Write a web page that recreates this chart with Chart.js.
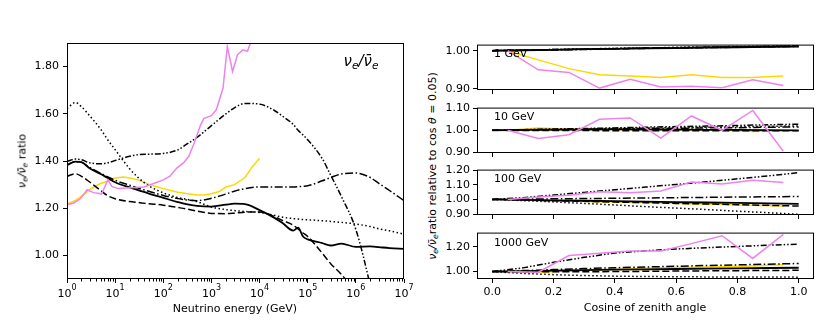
<!DOCTYPE html>
<html>
<head>
<meta charset="utf-8">
<script src="https://cdn.jsdelivr.net/npm/chart.js@4.4.1/dist/chart.umd.min.js"></script>
<style>
  body { margin: 0; background: #fff; width: 830px; height: 332px; position: relative; overflow: hidden;
         font-family: "DejaVu Sans", sans-serif; color: #000; }
  canvas { position: absolute; }
  .txt { position: absolute; white-space: nowrap; line-height: 1; }
  .rot { transform: translate(-50%, -50%) rotate(-90deg); }
  .mid { transform: translate(-50%, -50%); }
  .lab { transform: translate(0, -50%); }
  sub { font-size: 70%; vertical-align: -0.3em; line-height: 0; }
  i { font-style: italic; }
</style>
</head>
<body>
<canvas id="left" width="420" height="332" style="left:0;top:0"></canvas>

<div class="txt rot" style="left:22px;top:161px;font-size:11px"><i>ν<sub>e</sub>/ν̄<sub>e</sub></i> ratio</div>
<div class="txt mid" style="left:235px;top:308px;font-size:11px">Neutrino energy (GeV)</div>
<div class="txt mid" style="left:361px;top:61px;font-size:15px"><i>ν<sub>e</sub>/ν̄<sub>e</sub></i></div>

<div class="txt rot" style="left:432px;top:166px;font-size:11px"><i>ν<sub>e</sub>/ν̄<sub>e</sub></i>ratio relative to cos <i>θ</i> = 0.05)</div>
<div class="txt mid" style="left:645px;top:307px;font-size:11px">Cosine of zenith angle</div>

<script>
// ---- left panel: ratio vs energy ----
const energy = [1, 1.5, 2, 3, 5, 7, 10, 20, 30, 50, 100, 200, 300, 500, 1e3, 2e3, 3e3, 5e3,
                1e4, 2e4, 3e4, 5e4, 6.3e4, 8e4, 1e5, 2e5, 3e5, 5e5, 1e6, 2e6, 3e6, 5e6, 1e7];
const eSolid = [1.384, 1.397, 1.395, 1.368, 1.345, 1.328, 1.310, 1.288, 1.277, 1.262, 1.244, 1.226, 1.217, 1.210,
                1.207, 1.215, 1.219, 1.217, 1.192, 1.160, 1.137, 1.105, 1.118, 1.080, 1.068, 1.052, 1.042, 1.050,
                1.036, 1.038, 1.035, 1.031, 1.028];
const eDashed = [1.335, 1.346, 1.335, 1.310, 1.275, 1.253, 1.240, 1.228, 1.224, 1.219, 1.213, 1.203, 1.197, 1.188,
                 1.178, 1.177, 1.179, 1.183, 1.184, 1.165, 1.148, 1.128, 1.112, 1.095, 1.080, 1.010, 0.965, 0.920,
                 0.840, 0.750, 0.690, 0.610, 0.500];
const eDotted = [1.622, 1.648, 1.630, 1.590, 1.535, 1.490, 1.448, 1.367, 1.330, 1.295, 1.265, 1.245, 1.238, 1.228,
                 1.205, 1.194, 1.190, 1.186, 1.182, 1.170, 1.162, 1.156, 1.154, 1.152, 1.151, 1.147, 1.144, 1.140,
                 1.133, 1.122, 1.113, 1.104, 1.090];
const eDashDot = [1.382, 1.397, 1.394, 1.372, 1.348, 1.333, 1.318, 1.297, 1.285, 1.272, 1.254, 1.241, 1.235, 1.232,
                  1.242, 1.260, 1.272, 1.283, 1.290, 1.290, 1.290, 1.290, 1.291, 1.293, 1.295, 1.316, 1.330, 1.345,
                  1.349, 1.330, 1.305, 1.275, 1.232];
const eDashDotDot = [1.398, 1.408, 1.405, 1.392, 1.388, 1.392, 1.402, 1.420, 1.427, 1.429, 1.432, 1.447, 1.470, 1.500,
                     1.550, 1.600, 1.625, 1.644, 1.641, 1.615, 1.590, 1.555, 1.530, 1.510, 1.490, 1.410, 1.340, 1.250,
                     1.110, 0.870, 0.700, 0.450, 0.100];
const goldE = [1, 1.5, 2, 3, 4, 5, 7, 10, 15, 20, 30, 50, 70, 100, 150, 200, 300, 500, 700, 1000, 1500, 2000,
               3000, 5000, 7000, 10000];
const goldV = [1.218, 1.233, 1.250, 1.280, 1.295, 1.305, 1.315, 1.328, 1.332, 1.328, 1.320, 1.302, 1.292, 1.283,
               1.274, 1.268, 1.262, 1.256, 1.256, 1.261, 1.272, 1.290, 1.300, 1.330, 1.375, 1.412];
const violetE = [1, 1.38, 1.9, 2.63, 3.55, 5.25, 7.08, 8.51, 11.7, 39.8, 74.1, 100, 138, 191, 263, 339, 437, 589,
                 692, 1000, 1260, 1740, 2140, 2750, 3470, 4470, 5620, 6610, 8910];
const violetV = [1.215, 1.222, 1.240, 1.278, 1.266, 1.261, 1.320, 1.292, 1.283, 1.290, 1.310, 1.320, 1.336, 1.370,
                 1.392, 1.420, 1.475, 1.550, 1.580, 1.592, 1.617, 1.708, 1.885, 1.779, 1.850, 1.871, 1.865, 1.906, 1.950];
const energyExponents = [0, 1, 2, 3, 4, 5, 6, 7];
const ratioTicks = [1.0, 1.2, 1.4, 1.6, 1.8];

// ---- right panels: ratio vs cos(zenith) ----
const cosAll = [0, 0.1, 0.2, 0.3, 0.4, 0.5, 0.6, 0.7, 0.8, 0.9, 1.0];
const cosBins = [0.05, 0.15, 0.25, 0.35, 0.45, 0.55, 0.65, 0.75, 0.85, 0.95];
const cosTicks = [0, 0.2, 0.4, 0.6, 0.8, 1.0];

const p1Solid = [1.000, 1.001, 1.002, 1.004, 1.005, 1.006, 1.007, 1.008, 1.009, 1.010, 1.011];
const p1Dashed = [1.000, 1.001, 1.003, 1.004, 1.005, 1.007, 1.008, 1.009, 1.010, 1.011, 1.012];
const p1Dotted = [1.000, 1.002, 1.003, 1.005, 1.006, 1.007, 1.009, 1.010, 1.011, 1.012, 1.013];
const p1DashDot = [1.000, 1.001, 1.002, 1.003, 1.005, 1.006, 1.007, 1.008, 1.009, 1.010, 1.011];
const p1DashDotDot = [1.000, 1.002, 1.003, 1.004, 1.006, 1.007, 1.008, 1.009, 1.010, 1.011, 1.012];
const p1Gold = [0.999, 0.976, 0.953, 0.937, 0.934, 0.930, 0.937, 0.930, 0.930, 0.934];
const p1Violet = [1.000, 0.950, 0.943, 0.902, 0.925, 0.905, 0.907, 0.903, 0.924, 0.909];
const p1Ticks = [0.9, 1.0];

const p2Solid = [1.000, 1.002, 1.003, 1.003, 1.004, 1.003, 1.003, 1.002, 1.002, 1.001, 1.000];
const p2Dashed = [1.000, 0.999, 0.999, 0.999, 0.998, 0.998, 0.998, 0.998, 0.998, 0.998, 0.998];
const p2Dotted = [1.000, 1.002, 1.004, 1.006, 1.008, 1.010, 1.012, 1.014, 1.016, 1.018, 1.020];
const p2DashDot = [1.000, 1.002, 1.003, 1.005, 1.006, 1.008, 1.009, 1.011, 1.012, 1.014, 1.015];
const p2DashDotDot = [1.000, 1.003, 1.006, 1.008, 1.011, 1.014, 1.017, 1.019, 1.022, 1.025, 1.028];
const p2Gold = [1.000, 1.010, 1.005, 1.008, 1.010, 1.005, 1.005, 1.000, 0.995, 0.998];
const p2Violet = [1.000, 0.963, 0.980, 1.050, 1.056, 0.965, 1.065, 1.000, 1.090, 0.905];
const p2Ticks = [0.9, 1.0, 1.1];

const p3Solid = [1.000, 0.997, 0.994, 0.991, 0.988, 0.985, 0.982, 0.979, 0.976, 0.973, 0.970];
const p3Dashed = [1.000, 0.996, 0.991, 0.987, 0.982, 0.978, 0.973, 0.969, 0.964, 0.960, 0.955];
const p3Dotted = [1.000, 0.992, 0.983, 0.973, 0.962, 0.951, 0.941, 0.931, 0.920, 0.910, 0.898];
const p3DashDot = [1.000, 1.002, 1.004, 1.006, 1.008, 1.010, 1.012, 1.014, 1.016, 1.018, 1.020];
const p3DashDotDot = [1.000, 1.012, 1.030, 1.048, 1.066, 1.084, 1.102, 1.120, 1.140, 1.160, 1.182];
const p3Gold = [1.000, 0.995, 0.990, 0.985, 0.980, 0.975, 0.970, 0.965, 0.960, 0.955];
const p3Violet = [1.000, 1.017, 1.028, 1.052, 1.046, 1.057, 1.118, 1.105, 1.130, 1.116];
const p3Ticks = [0.9, 1.0, 1.1, 1.2];

const p4Solid = [1.000, 1.004, 1.008, 1.012, 1.015, 1.018, 1.021, 1.024, 1.026, 1.029, 1.031];
const p4Dashed = [1.000, 0.998, 0.998, 0.999, 1.000, 1.002, 1.004, 1.006, 1.007, 1.009, 1.010];
const p4Dotted = [1.000, 0.985, 0.975, 0.968, 0.963, 0.960, 0.958, 0.957, 0.956, 0.956, 0.955];
const p4DashDot = [1.000, 1.008, 1.016, 1.024, 1.031, 1.037, 1.043, 1.049, 1.054, 1.060, 1.065];
const p4DashDotDot = [1.000, 1.030, 1.075, 1.115, 1.150, 1.168, 1.182, 1.193, 1.203, 1.213, 1.222];
const p4Gold = [1.000, 0.995, 1.005, 1.015, 1.022, 1.030, 1.035, 1.040, 1.045, 1.055];
const p4Violet = [1.000, 0.995, 1.130, 1.148, 1.166, 1.166, 1.226, 1.290, 1.106, 1.300];
const p4Ticks = [1.0, 1.2];

// ---- styles ----
const FONT = '"DejaVu Sans", sans-serif';
Chart.defaults.font.family = FONT;
Chart.defaults.font.size = 11;
Chart.defaults.color = '#000';
Chart.defaults.animation = false;
Chart.defaults.plugins.legend.display = false;
Chart.defaults.plugins.tooltip.enabled = false;

const styles = {
  solid:      { color: '#000', dash: [], width: 1.8 },
  dashed:     { color: '#000', dash: [7, 3], width: 1.5 },
  dotted:     { color: '#000', dash: [1.5, 2.5], width: 1.5 },
  dashdot:    { color: '#000', dash: [8, 2.5, 1.5, 2.5], width: 1.5 },
  dashdotdot: { color: '#000', dash: [6, 2, 1.5, 2, 1.5, 2], width: 1.5 },
  gold:       { color: '#ffd700', dash: [], width: 1.5 },
  violet:     { color: '#ee82ee', dash: [], width: 1.5 }
};

function series(xs, ys, style, smooth) {
  const s = styles[style];
  return {
    data: xs.map((x, i) => ({ x: x, y: ys[i] })),
    borderColor: s.color,
    borderDash: s.dash,
    borderWidth: s.width,
    pointRadius: 0,
    fill: false,
    tension: 0,
    cubicInterpolationMode: smooth ? 'monotone' : 'default'
  };
}

// full box, minor log ticks and 10^k labels
const frame = {
  id: 'frame',
  afterDatasetsDraw(chart, args, opts) {
    const ctx = chart.ctx, a = chart.chartArea;
    ctx.save();
    ctx.strokeStyle = '#000';
    ctx.lineWidth = 1;
    ctx.strokeRect(a.left + 0.5, a.top + 0.5, a.right - a.left - 1, a.bottom - a.top - 1);
    if (opts.minor) {
      const sx = chart.scales.x;
      opts.minor.forEach(v => {
        const x = Math.round(sx.getPixelForValue(v)) + 0.5;
        ctx.beginPath();
        ctx.moveTo(x, a.bottom);
        ctx.lineTo(x, a.bottom + 2.5);
        ctx.stroke();
      });
    }
    if (opts.powers) {
      const sx = chart.scales.x;
      ctx.fillStyle = '#000';
      ctx.textAlign = 'left';
      ctx.textBaseline = 'alphabetic';
      opts.powers.forEach(k => {
        const x = sx.getPixelForValue(Math.pow(10, k));
        ctx.font = '11px ' + FONT;
        const w1 = ctx.measureText('10').width;
        ctx.font = '8px ' + FONT;
        const w2 = ctx.measureText(String(k)).width;
        const x0 = x - (w1 + w2) / 2;
        ctx.font = '11px ' + FONT;
        ctx.fillText('10', x0, 297);
        ctx.font = '8px ' + FONT;
        ctx.fillText(String(k), x0 + w1, 290);
      });
    }
    ctx.restore();
  }
};

const minorEnergy = [];
for (let k = 0; k < 7; k++) for (let m = 2; m <= 9; m++) minorEnergy.push(m * Math.pow(10, k));

const tickGrid = { drawOnChartArea: false, drawTicks: true, tickLength: 4, tickColor: '#000', tickWidth: 1 };

new Chart(document.getElementById('left'), {
  type: 'line',
  data: {
    datasets: [
      series(violetE, violetV, 'violet', false),
      series(energy, eSolid, 'solid', true),
      series(energy, eDashed, 'dashed', true),
      series(energy, eDotted, 'dotted', true),
      series(energy, eDashDot, 'dashdot', true),
      series(energy, eDashDotDot, 'dashdotdot', true),
      series(goldE, goldV, 'gold', false)
    ]
  },
  options: {
    responsive: false,
    devicePixelRatio: 1,
    layout: { padding: { left: 0, top: 43, right: 16, bottom: 0 } },
    scales: {
      x: {
        type: 'logarithmic', min: 1, max: 1e7,
        afterBuildTicks: s => { s.ticks = energyExponents.map(k => ({ value: Math.pow(10, k) })); },
        ticks: { display: false },
        grid: tickGrid,
        border: { display: false },
        afterFit: s => { s.height = 53; }
      },
      y: {
        type: 'linear', min: 0.9, max: 1.9,
        afterBuildTicks: s => { s.ticks = ratioTicks.map(v => ({ value: v })); },
        ticks: { callback: v => v.toFixed(2), padding: 4, autoSkip: false },
        grid: tickGrid,
        border: { display: false },
        afterFit: s => { s.width = 67; }
      }
    },
    plugins: { frame: { minor: minorEnergy, powers: energyExponents } }
  },
  plugins: [frame]
});

// ---- stacked panels ----
const panels = [
  { label: '1 GeV',    top: 43,  bottom: 90,  min: 0.897, max: 1.016, ticks: p1Ticks,
    lines: [p1Solid, p1Dashed, p1Dotted, p1DashDot, p1DashDotDot], gold: p1Gold, violet: p1Violet, labelY: 53 },
  { label: '10 GeV',   top: 106, bottom: 153, min: 0.897, max: 1.103, ticks: p2Ticks,
    lines: [p2Solid, p2Dashed, p2Dotted, p2DashDot, p2DashDotDot], gold: p2Gold, violet: p2Violet, labelY: 116 },
  { label: '100 GeV',  top: 168, bottom: 215, min: 0.894, max: 1.203, ticks: p3Ticks,
    lines: [p3Solid, p3Dashed, p3Dotted, p3DashDot, p3DashDotDot], gold: p3Gold, violet: p3Violet, labelY: 178 },
  { label: '1000 GeV', top: 231, bottom: 279, min: 0.94,  max: 1.315, ticks: p4Ticks,
    lines: [p4Solid, p4Dashed, p4Dotted, p4DashDot, p4DashDotDot], gold: p4Gold, violet: p4Violet, labelY: 242 }
];
const lineStyles = ['solid', 'dashed', 'dotted', 'dashdot', 'dashdotdot'];

panels.forEach((p, idx) => {
  const last = idx === panels.length - 1;
  const xh = last ? 22 : 10;
  const cv = document.createElement('canvas');
  const h = p.bottom - p.top + 8 + xh;
  cv.width = 390; cv.height = h;
  cv.style.left = '440px'; cv.style.top = (p.top - 8) + 'px';
  document.body.appendChild(cv);

  const lbl = document.createElement('div');
  lbl.className = 'txt lab';
  lbl.style.left = '494px'; lbl.style.top = p.labelY + 'px'; lbl.style.fontSize = '11px';
  lbl.textContent = p.label;
  document.body.appendChild(lbl);

  const ds = [series(cosBins, p.violet, 'violet', false)];
  p.lines.forEach((ys, i) => ds.push(series(cosAll, ys, lineStyles[i], false)));
  ds.push(series(cosBins, p.gold, 'gold', false));

  new Chart(cv, {
    type: 'line',
    data: { datasets: ds },
    options: {
      responsive: false,
      devicePixelRatio: 1,
      layout: { padding: { left: 0, top: 8, right: 16, bottom: 0 } },
      scales: {
        x: {
          type: 'linear', min: -0.05, max: 1.05,
          afterBuildTicks: s => { s.ticks = cosTicks.map(v => ({ value: v })); },
          ticks: { display: last, callback: v => v.toFixed(1), padding: 3, maxRotation: 0, autoSkip: false },
          grid: tickGrid,
          border: { display: false },
          afterFit: s => { s.height = xh; }
        },
        y: {
          type: 'linear', min: p.min, max: p.max,
          afterBuildTicks: s => { s.ticks = p.ticks.map(v => ({ value: v })); },
          ticks: { callback: v => v.toFixed(2), padding: 3, autoSkip: false },
          grid: tickGrid,
          border: { display: false },
          afterFit: s => { s.width = 37; }
        }
      },
      plugins: { frame: {} }
    },
    plugins: [frame]
  });
});
</script>
</body>
</html>
